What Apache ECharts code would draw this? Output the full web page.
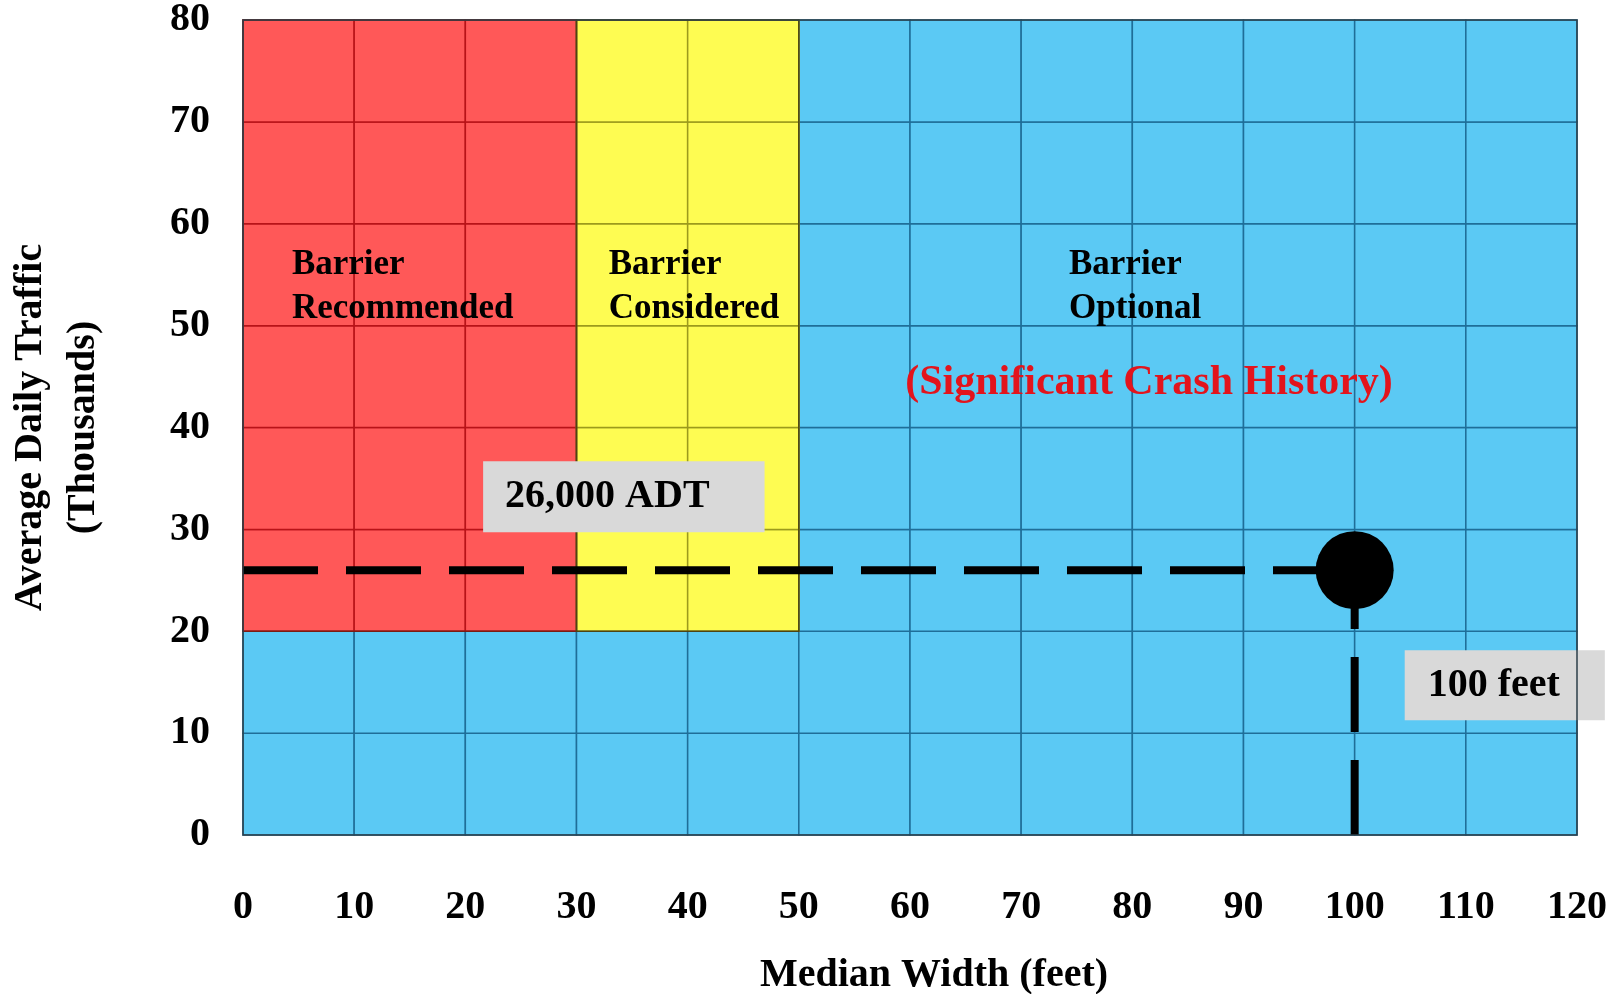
<!DOCTYPE html>
<html>
<head>
<meta charset="utf-8">
<script src="https://cdn.jsdelivr.net/npm/echarts@6/dist/echarts.min.js"></script>
<style>
html,body{margin:0;padding:0;background:#fff;}
#chart{width:1612px;height:994px;}
</style>
</head>
<body>
<div id="chart"></div>
<script>
// ---- data ----
const xTicks = [0, 10, 20, 30, 40, 50, 60, 70, 80, 90, 100, 110, 120];   // median width (feet)
const yTicks = [0, 10, 20, 30, 40, 50, 60, 70, 80];                      // ADT (thousands)
const zoneNames  = ['Barrier Recommended', 'Barrier Considered'];
const zoneXStart = [0, 30];
const zoneXEnd   = [30, 50];
const zoneYStart = [20, 20];
const zoneYEnd   = [80, 80];
// everything outside the zones above: Barrier Optional
const exampleWidth = 100;   // feet
const exampleADT   = 26;    // thousands

// ---- styles ----
const zoneFill   = ['#ff5858', '#fefc52'];
const zoneStroke = ['#b81318', '#9c9a1c'];
const otherFill   = '#5bc9f4';
const otherStroke = '#1f6e98';
const FONT = 'Liberation Serif';

function zoneOf(x0, x1, y0, y1) {
  for (let k = 0; k < zoneXStart.length; k++) {
    if (x0 >= zoneXStart[k] && x1 <= zoneXEnd[k] && y0 >= zoneYStart[k] && y1 <= zoneYEnd[k]) return k;
  }
  return -1;
}

const cells = [];
for (let i = 0; i < xTicks.length - 1; i++) {
  for (let j = 0; j < yTicks.length - 1; j++) {
    const x0 = xTicks[i], x1 = xTicks[i + 1], y0 = yTicks[j], y1 = yTicks[j + 1];
    cells.push([x0, x1, y0, y1, zoneOf(x0, x1, y0, y1)]);
  }
}
cells.sort((a, b) => a[4] - b[4]);

const zoneRects = zoneNames.map((n, k) => [zoneXStart[k], zoneXEnd[k], zoneYStart[k], zoneYEnd[k], k]);

// annotation layout (positions in axis units)
const annotations = [
  { text: 'Barrier\nRecommended', x: 4.4, y: 53.8, color: '#000', size: 35, lh: 44 },
  { text: 'Barrier\nConsidered', x: 32.9, y: 53.8, color: '#000', size: 35, lh: 44 },
  { text: 'Barrier\nOptional', x: 74.3, y: 53.8, color: '#000', size: 35, lh: 44 },
  { text: '(Significant Crash History)', x: 81.5, y: 44.4, color: '#e3141c', size: 42, lh: 46, center: true },
  { text: (exampleADT * 1000).toLocaleString('en-US') + ' ADT', x: 21.6, y: 33.2, color: '#000', size: 40, lh: 41, box: [15, 55, 15, 22] },
  { text: exampleWidth + ' feet', x: 104.5, y: 14.7, color: '#000', size: 40, lh: 42, box: [14, 45, 14, 23] }
];

const chart = echarts.init(document.getElementById('chart'), null, { renderer: 'canvas' });

const option = {
  backgroundColor: '#fff',
  animation: false,
  grid: { left: 243, right: 35, top: 20, bottom: 159, containLabel: false, outerBoundsMode: 'none',
    show: true, borderColor: '#2d3f4a', borderWidth: 1.5, backgroundColor: 'transparent', z: 10 },
  xAxis: {
    type: 'value', min: 0, max: 120, interval: 10,
    name: 'Median Width (feet)', nameLocation: 'middle', nameGap: 119,
    nameTextStyle: { fontFamily: FONT, fontWeight: 'bold', fontSize: 40, color: '#000', lineHeight: 44, padding: [0, 0, 0, 48] },
    axisLine: { show: false }, axisTick: { show: false }, splitLine: { show: false },
    axisLabel: { fontFamily: FONT, fontWeight: 'bold', fontSize: 40, color: '#000', margin: 53, lineHeight: 40,
      formatter: v => xTicks.includes(v) ? String(v) : '' }
  },
  yAxis: {
    type: 'value', min: 0, max: 80, interval: 10,
    name: 'Average Daily Traffic\n(Thousands)', nameLocation: 'middle', nameGap: 133, nameRotate: 90,
    nameTextStyle: { fontFamily: FONT, fontWeight: 'bold', fontSize: 40, color: '#000', lineHeight: 53 },
    axisLine: { show: false }, axisTick: { show: false }, splitLine: { show: false },
    axisLabel: { fontFamily: FONT, fontWeight: 'bold', fontSize: 40, color: '#000', margin: 33, lineHeight: 40,
      formatter: v => yTicks.includes(v) ? String(v) : '' }
  },
  series: [
    {
      type: 'custom', name: 'cells', z: 1, silent: true,
      data: cells,
      renderItem: (params, api) => {
        const p0 = api.coord([api.value(0), api.value(3)]);
        const p1 = api.coord([api.value(1), api.value(2)]);
        const k = api.value(4);
        return {
          type: 'rect',
          shape: { x: p0[0], y: p0[1], width: p1[0] - p0[0], height: p1[1] - p0[1] },
          style: { fill: k >= 0 ? zoneFill[k] : otherFill, stroke: k >= 0 ? zoneStroke[k] : otherStroke, lineWidth: 1.5 }
        };
      }
    },
    {
      type: 'custom', name: 'zones', z: 2, silent: true,
      data: zoneRects,
      renderItem: (params, api) => {
        const p0 = api.coord([api.value(0), api.value(3)]);
        const p1 = api.coord([api.value(1), api.value(2)]);
        const k = api.value(4);
        return {
          type: 'rect',
          shape: { x: p0[0], y: p0[1], width: p1[0] - p0[0], height: p1[1] - p0[1] },
          style: { fill: 'none', stroke: k === 0 ? '#7a1c14' : '#4d4414', lineWidth: 1.5 }
        };
      }
    },
    {
      type: 'line', name: 'adtLine', z: 5, silent: true, symbol: 'none',
      data: [[xTicks[0], exampleADT], [exampleWidth, exampleADT]],
      lineStyle: { color: '#000', width: 8, type: [75, 28], cap: 'butt', opacity: 1 }
    },
    {
      type: 'line', name: 'widthLine', z: 5, silent: true, symbol: 'none',
      data: [[exampleWidth, yTicks[0]], [exampleWidth, exampleADT]],
      lineStyle: { color: '#000', width: 8, type: [75, 28], cap: 'butt', opacity: 1 }
    },
    {
      type: 'scatter', name: 'point', z: 6, silent: true,
      data: [[exampleWidth, exampleADT]],
      symbol: 'circle', symbolSize: 78,
      itemStyle: { color: '#000', opacity: 1 }
    },
    {
      type: 'scatter', name: 'notes', z: 7, silent: true, clip: false,
      symbolSize: 0,
      itemStyle: { opacity: 1 },
      data: annotations.map(a => ({
        value: [a.x, a.y],
        label: {
          show: true,
          position: a.center ? 'inside' : 'right',
          distance: 0,
          formatter: a.text,
          fontFamily: FONT, fontWeight: 'bold', fontSize: a.size, lineHeight: a.lh,
          color: a.color, opacity: 1,
          align: a.center ? 'center' : 'left',
          backgroundColor: a.box ? '#d9d9d9' : 'transparent',
          padding: a.box ? a.box : 0
        }
      }))
    }
  ]
};
chart.setOption(option);
</script>
</body>
</html>
